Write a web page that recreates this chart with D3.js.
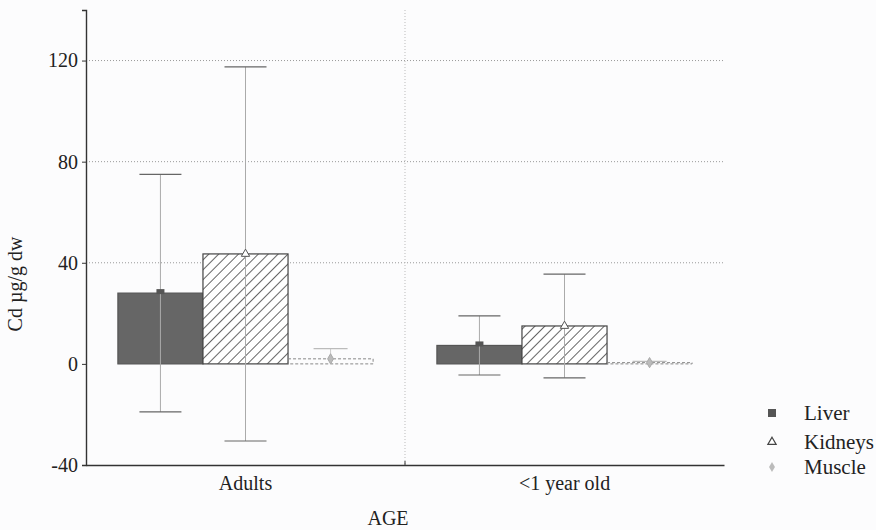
<!DOCTYPE html>
<html><head><meta charset="utf-8">
<script src="https://cdn.jsdelivr.net/npm/d3@7"></script>
<style>body{margin:0;background:#fcfcfd}svg{display:block}svg text{font-family:"Liberation Serif","Times New Roman",serif !important;fill:#222}</style>
</head><body><svg id="c" width="876" height="530"></svg>
<script>
const categories = ["Adults", "<1 year old"];
const seriesNames = ["Liver", "Kidneys", "Muscle"];
const liverMean = [28, 7.3];
const liverSD = [47, 11.7];
const kidneysMean = [43.5, 15];
const kidneysSD = [74, 20.5];
const muscleMean = [2, 0.5];
const muscleSD = [4, 0.5];
const yTicks = [-40, 0, 40, 80, 120];
const gridValues = [40, 80, 120];

const means = [liverMean, kidneysMean, muscleMean];
const sds = [liverSD, kidneysSD, muscleSD];
const FONT = '"Liberation Serif","Times New Roman",serif';

const svg = d3.select("#c");
const m = {l: 86, r: 152, t: 10, b: 65};
const W = 876, H = 530;
const x0 = d3.scaleBand().domain(categories).range([m.l, W - m.r]).paddingInner(0).paddingOuter(0);
const x1 = d3.scaleBand().domain(seriesNames).range([0, x0.bandwidth()]).paddingOuter(0.375).paddingInner(0);
const y = d3.scaleLinear().domain([-40, 140]).range([H - m.b, m.t]);

const defs = svg.append("defs");
const pat = defs.append("pattern").attr("id", "hatch").attr("patternUnits", "userSpaceOnUse")
  .attr("width", 7).attr("height", 7).attr("patternTransform", "rotate(45)");
pat.append("rect").attr("width", 7).attr("height", 7).attr("fill", "#fff");
pat.append("line").attr("x1", 0).attr("y1", 0).attr("x2", 0).attr("y2", 7).attr("stroke", "#333").attr("stroke-width", 1.5);

// grid
svg.append("g").selectAll("line").data(gridValues).join("line")
  .attr("x1", m.l).attr("x2", W - m.r).attr("y1", d => y(d)).attr("y2", d => y(d))
  .attr("stroke", "#999").attr("stroke-width", 1).attr("stroke-dasharray", "1,2");
svg.append("line").attr("x1", x0(categories[1])).attr("x2", x0(categories[1]))
  .attr("y1", y(140)).attr("y2", y(-40)).attr("stroke", "#bbb").attr("stroke-dasharray", "1,2");

// bars
const fills = ["#666", "url(#hatch)", "none"];
const strokes = ["#555", "#444", "#888"];
categories.forEach((c, ci) => {
  const g = svg.append("g").attr("transform", `translate(${x0(c)},0)`);
  seriesNames.forEach((s, si) => {
    const v = means[si][ci];
    const bx = x1(s), bw = x1.bandwidth();
    g.append("rect").attr("x", bx).attr("width", bw)
      .attr("y", y(Math.max(0, v))).attr("height", Math.abs(y(v) - y(0)))
      .attr("fill", fills[si]).attr("stroke", strokes[si]).attr("stroke-width", si === 2 ? 1 : 1.2)
      .attr("stroke-dasharray", si === 2 ? "3,2" : null);
  });
  // error bars
  seriesNames.forEach((s, si) => {
    const v = means[si][ci], sd = sds[si][ci];
    const cx = x1(s) + x1.bandwidth() / 2;
    const lo = si === 2 ? v : v - sd;
    g.append("line").attr("x1", cx).attr("x2", cx).attr("y1", y(v + sd)).attr("y2", y(lo))
      .attr("stroke", si === 2 ? "#ccc" : "#aaa").attr("stroke-width", 1);
    const caps = si === 2 ? [v + sd] : [v + sd, v - sd];
    const half = si === 2 ? 17 : 21;
    caps.forEach(e => g.append("line").attr("x1", cx - half).attr("x2", cx + half)
      .attr("y1", y(e)).attr("y2", y(e)).attr("stroke", si === 2 ? "#bbb" : "#666").attr("stroke-width", 1.2));
    // markers
    if (si === 0) g.append("rect").attr("x", cx - 4).attr("y", y(v) - 4).attr("width", 8).attr("height", 5).attr("fill", "#555");
    if (si === 1) g.append("path").attr("d", d3.symbol(d3.symbolTriangle, 30)()).attr("transform", `translate(${cx},${y(v)})`)
      .attr("fill", "#fff").attr("stroke", "#555").attr("stroke-width", 1);
    if (si === 2) g.append("path").attr("d", d3.symbol(d3.symbolDiamond, 30)()).attr("transform", `translate(${cx},${y(v)})`)
      .attr("fill", "#bbb").attr("stroke", "#aaa");
  });
});

// axes
const ya = svg.append("g").attr("transform", `translate(${m.l},0)`)
  .call(d3.axisLeft(y).tickValues(yTicks).tickSize(4).tickFormat(d => String(d)));
ya.attr("font-family", FONT);
ya.select(".domain").attr("stroke", "#333").attr("stroke-width", 1.4);
ya.selectAll(".tick line").attr("stroke", "#333");
ya.selectAll("text").style("font-size", "20px").style("font-family", FONT).attr("x", -8).attr("fill", "#222");

const xa = svg.append("g").attr("transform", `translate(0,${y(-40)})`)
  .call(d3.axisBottom(x0).tickSize(0).tickSizeOuter(0));
xa.attr("font-family", FONT);
xa.select(".domain").attr("stroke", "#333").attr("stroke-width", 1.4);
xa.selectAll("text").style("font-size", "20px").style("font-family", FONT).attr("dy", "1.1em").attr("fill", "#222");
xa.append("line").attr("x1", x0(categories[1])).attr("x2", x0(categories[1])).attr("y1", 0).attr("y2", -4).attr("stroke", "#333");

svg.append("text").attr("x", 388).attr("y", 525).attr("text-anchor", "middle").style("font-size", "20px").style("font-family", FONT).text("AGE");
svg.append("text").attr("transform", "translate(22,284) rotate(-90)").attr("text-anchor", "middle")
  .style("font-size", "20px").style("font-family", FONT).text("Cd µg/g dw");

// legend
const lg = svg.append("g").attr("transform", "translate(772,0)");
const ly = [413, 442, 467];
seriesNames.forEach((s, i) => {
  const row = lg.append("g").attr("transform", `translate(0,${ly[i]})`);
  if (i === 0) row.append("rect").attr("x", -4).attr("y", -4).attr("width", 8).attr("height", 8).attr("fill", "#555");
  if (i === 1) row.append("path").attr("d", d3.symbol(d3.symbolTriangle, 30)()).attr("fill", "#fff").attr("stroke", "#444").attr("stroke-width", 1.2);
  if (i === 2) row.append("path").attr("d", d3.symbol(d3.symbolDiamond, 30)()).attr("fill", "#bbb");
  row.append("text").attr("x", 32).attr("y", 0).attr("dy", "0.35em").style("font-size", "21px").style("font-family", FONT).text(s);
});
</script></body></html>
